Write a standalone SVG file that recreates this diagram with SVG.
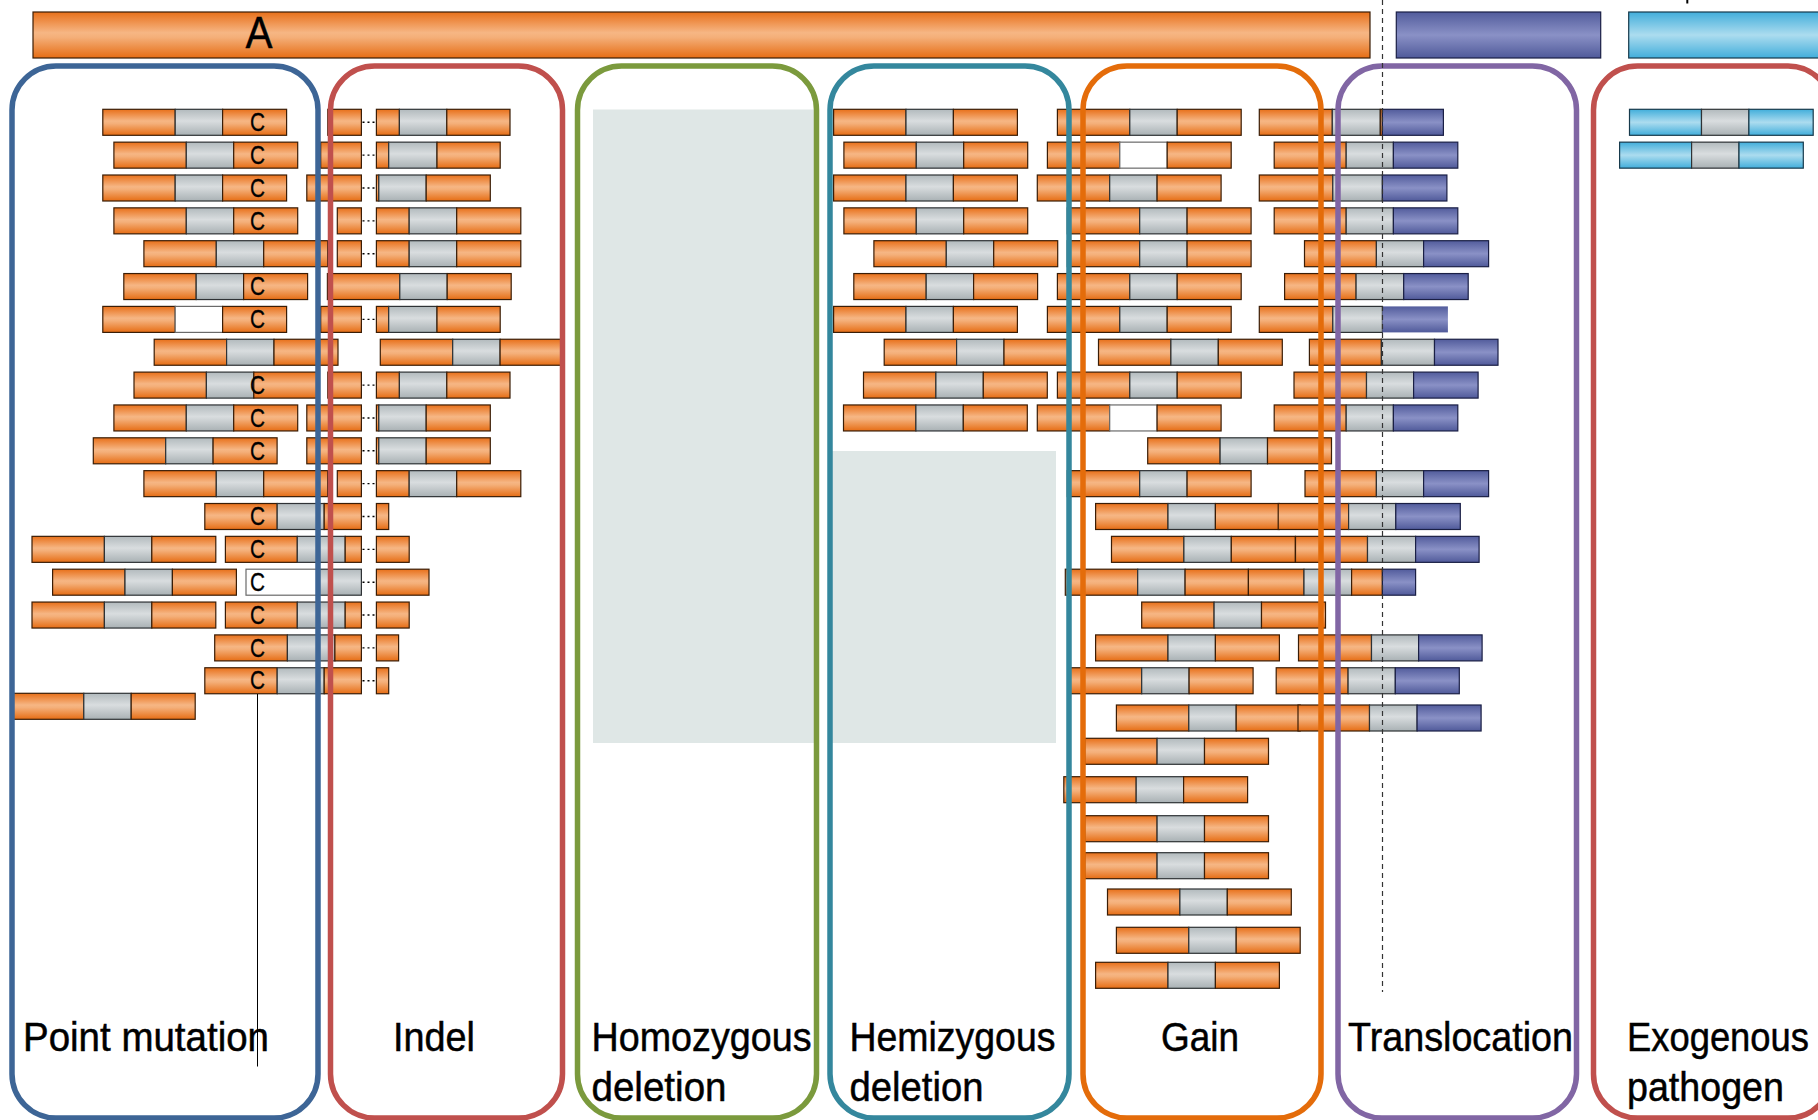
<svg xmlns="http://www.w3.org/2000/svg" width="1818" height="1120" viewBox="0 0 1818 1120">
<style>
.o{fill:url(#go);stroke:#3a1d06;stroke-width:1.2}
.g{fill:url(#gg);stroke:#2e3235;stroke-width:1.2}
.p{fill:url(#gp);stroke:#1a1f45;stroke-width:1.2}
.pn{fill:url(#gp);stroke:none}
.c{fill:url(#gc);stroke:#173a4c;stroke-width:1.2}
.w{fill:#fff;stroke:#6a6a6a;stroke-width:1.2}
.bg{fill:#dfe7e6}
.fr{fill:none;stroke-width:5.5}
.lbl{font-family:"Liberation Sans Narrow","Liberation Sans",Arial,sans-serif;font-size:41px;fill:#000;stroke:#000;stroke-width:0.5}
.cm{font-family:"Liberation Sans Narrow","Liberation Sans",Arial,sans-serif;font-size:26px;fill:#000;stroke:#000;stroke-width:0.3;text-anchor:middle}
.dots{stroke:#000;stroke-width:1.4;stroke-dasharray:2 3;fill:none}
</style>
<defs>
<linearGradient id="go" x1="0" y1="0" x2="0" y2="1"><stop offset="0" stop-color="#e8701a"/><stop offset="0.45" stop-color="#f6b684"/><stop offset="0.55" stop-color="#f4af79"/><stop offset="1" stop-color="#e66d14"/></linearGradient>
<linearGradient id="gg" x1="0" y1="0" x2="0" y2="1"><stop offset="0" stop-color="#b2babd"/><stop offset="0.45" stop-color="#d9dddf"/><stop offset="1" stop-color="#a9b1b4"/></linearGradient>
<linearGradient id="gp" x1="0" y1="0" x2="0" y2="1"><stop offset="0" stop-color="#525c9c"/><stop offset="0.5" stop-color="#8a91c6"/><stop offset="1" stop-color="#505a9a"/></linearGradient>
<linearGradient id="gc" x1="0" y1="0" x2="0" y2="1"><stop offset="0" stop-color="#42aedb"/><stop offset="0.5" stop-color="#acdcef"/><stop offset="1" stop-color="#42aedb"/></linearGradient>
<g id="u"><rect class="o" x="0" y="0" width="72.4" height="26"/><rect class="g" x="72.4" y="0" width="47.4" height="26"/><rect class="o" x="119.8" y="0" width="64" height="26"/></g>
<g id="uw"><rect class="o" x="0" y="0" width="72.4" height="26"/><rect class="w" x="72.4" y="0" width="47.4" height="26"/><rect class="o" x="119.8" y="0" width="64" height="26"/></g>
<g id="ue"><rect class="c" x="0" y="0" width="72" height="26"/><rect class="g" x="72" y="0" width="47.4" height="26"/><rect class="c" x="119.4" y="0" width="64.3" height="26"/></g>
</defs>

<rect x="0" y="0" width="1818" height="1120" fill="#fff"/>

<g id="top-bars">
<rect class="o" x="33" y="12" width="1337" height="46"/>
<text x="259" y="47.5" style="font-family:'Liberation Sans Narrow','Liberation Sans',Arial,sans-serif;font-size:44px;text-anchor:middle;stroke:#000;stroke-width:0.4" textLength="27" lengthAdjust="spacingAndGlyphs">A</text>
<rect class="p" x="1396.3" y="12" width="204.4" height="46"/>
<rect class="c" x="1628.7" y="12" width="200" height="46"/>
<line x1="1687.3" y1="0" x2="1687.3" y2="3.5" stroke="#000" stroke-width="2"/>
</g>

<g id="backgrounds">
<rect class="bg" x="593" y="109.5" width="223" height="633.5"/>
<rect class="bg" x="830" y="451" width="226" height="292"/>
</g>

<g id="point-mutation-bars">
<use href="#u" x="102.8" y="109.3"/>
<use href="#u" x="113.9" y="142.15"/>
<use href="#u" x="102.8" y="175"/>
<use href="#u" x="113.9" y="207.85"/>
<use href="#u" x="143.9" y="240.7"/>
<use href="#u" x="123.8" y="273.55"/>
<use href="#uw" x="102.8" y="306.4"/>
<use href="#u" x="154.2" y="339.25"/>
<use href="#u" x="134" y="372.1"/>
<use href="#u" x="113.9" y="404.95"/>
<use href="#u" x="93.3" y="437.8"/>
<use href="#u" x="143.9" y="470.65"/>
<g transform="translate(0,503.5)"><rect class="o" x="204.8" y="0" width="72.4" height="26"/><rect class="g" x="277.2" y="0" width="47" height="26"/><rect class="o" x="324.2" y="0" width="37.2" height="26"/></g>
<use href="#u" x="32" y="536.35"/>
<g transform="translate(0,536.35)"><rect class="o" x="225.4" y="0" width="71.9" height="26"/><rect class="g" x="297.3" y="0" width="47.9" height="26"/><rect class="o" x="345.2" y="0" width="16.2" height="26"/></g>
<use href="#u" x="52.6" y="569.2"/>
<g transform="translate(0,569.2)"><rect class="w" x="246" y="0" width="72.4" height="26"/><rect class="g" x="318.4" y="0" width="43" height="26"/></g>
<use href="#u" x="32" y="602.05"/>
<g transform="translate(0,602.05)"><rect class="o" x="225.4" y="0" width="71.9" height="26"/><rect class="g" x="297.3" y="0" width="47.9" height="26"/><rect class="o" x="345.2" y="0" width="16.2" height="26"/></g>
<g transform="translate(0,634.9)"><rect class="o" x="214.7" y="0" width="72.7" height="26"/><rect class="g" x="287.4" y="0" width="47.5" height="26"/><rect class="o" x="334.9" y="0" width="26.5" height="26"/></g>
<g transform="translate(0,667.75)"><rect class="o" x="204.8" y="0" width="72.4" height="26"/><rect class="g" x="277.2" y="0" width="47" height="26"/><rect class="o" x="324.2" y="0" width="37.2" height="26"/></g>
<use href="#u" x="11.4" y="693.3"/>
<g class="cm">
<text x="257.5" y="131" textLength="15" lengthAdjust="spacingAndGlyphs">C</text>
<text x="257.5" y="163.85" textLength="15" lengthAdjust="spacingAndGlyphs">C</text>
<text x="257.5" y="196.7" textLength="15" lengthAdjust="spacingAndGlyphs">C</text>
<text x="257.5" y="229.55" textLength="15" lengthAdjust="spacingAndGlyphs">C</text>
<text x="257.5" y="295.25" textLength="15" lengthAdjust="spacingAndGlyphs">C</text>
<text x="257.5" y="328.1" textLength="15" lengthAdjust="spacingAndGlyphs">C</text>
<text x="257.5" y="393.8" textLength="15" lengthAdjust="spacingAndGlyphs">C</text>
<text x="257.5" y="426.65" textLength="15" lengthAdjust="spacingAndGlyphs">C</text>
<text x="257.5" y="459.5" textLength="15" lengthAdjust="spacingAndGlyphs">C</text>
<text x="257.5" y="525.2" textLength="15" lengthAdjust="spacingAndGlyphs">C</text>
<text x="257.5" y="558.05" textLength="15" lengthAdjust="spacingAndGlyphs">C</text>
<text x="257.5" y="590.9" textLength="15" lengthAdjust="spacingAndGlyphs">C</text>
<text x="257.5" y="623.75" textLength="15" lengthAdjust="spacingAndGlyphs">C</text>
<text x="257.5" y="656.6" textLength="15" lengthAdjust="spacingAndGlyphs">C</text>
<text x="257.5" y="689.45" textLength="15" lengthAdjust="spacingAndGlyphs">C</text>
</g>
</g>

<g id="indel-bars">
<g transform="translate(0,109.3)"><rect class="o" x="327.8" y="0" width="33.6" height="26"/><rect class="o" x="376.4" y="0" width="23" height="26"/><rect class="g" x="399.4" y="0" width="47.4" height="26"/><rect class="o" x="446.8" y="0" width="63.2" height="26"/></g>
<g transform="translate(0,142.15)"><rect class="o" x="320.7" y="0" width="40.7" height="26"/><rect class="o" x="376.4" y="0" width="12.3" height="26"/><rect class="g" x="388.7" y="0" width="48.3" height="26"/><rect class="o" x="437" y="0" width="63.2" height="26"/></g>
<g transform="translate(0,175)"><rect class="o" x="306.8" y="0" width="54.6" height="26"/><rect class="o" x="376.4" y="0" width="2.4" height="26"/><rect class="g" x="378.8" y="0" width="47.4" height="26"/><rect class="o" x="426.2" y="0" width="64.1" height="26"/></g>
<g transform="translate(0,207.85)"><rect class="o" x="337.3" y="0" width="24.1" height="26"/><rect class="o" x="376.4" y="0" width="32.8" height="26"/><rect class="g" x="409.2" y="0" width="47.5" height="26"/><rect class="o" x="456.7" y="0" width="64.1" height="26"/></g>
<g transform="translate(0,240.7)"><rect class="o" x="337.3" y="0" width="24.1" height="26"/><rect class="o" x="376.4" y="0" width="32.8" height="26"/><rect class="g" x="409.2" y="0" width="47.5" height="26"/><rect class="o" x="456.7" y="0" width="64.1" height="26"/></g>
<use href="#u" x="327.4" y="273.55"/>
<g transform="translate(0,306.4)"><rect class="o" x="320.7" y="0" width="40.7" height="26"/><rect class="o" x="376.4" y="0" width="12.3" height="26"/><rect class="g" x="388.7" y="0" width="48.3" height="26"/><rect class="o" x="437" y="0" width="63.2" height="26"/></g>
<use href="#u" x="380.3" y="339.25"/>
<g transform="translate(0,372.1)"><rect class="o" x="327.8" y="0" width="33.6" height="26"/><rect class="o" x="376.4" y="0" width="23" height="26"/><rect class="g" x="399.4" y="0" width="47.4" height="26"/><rect class="o" x="446.8" y="0" width="63.2" height="26"/></g>
<g transform="translate(0,404.95)"><rect class="o" x="306.8" y="0" width="54.6" height="26"/><rect class="o" x="376.4" y="0" width="2.4" height="26"/><rect class="g" x="378.8" y="0" width="47.4" height="26"/><rect class="o" x="426.2" y="0" width="64.1" height="26"/></g>
<g transform="translate(0,437.8)"><rect class="o" x="306.8" y="0" width="54.6" height="26"/><rect class="o" x="376.4" y="0" width="2.4" height="26"/><rect class="g" x="378.8" y="0" width="47.4" height="26"/><rect class="o" x="426.2" y="0" width="64.1" height="26"/></g>
<g transform="translate(0,470.65)"><rect class="o" x="337.3" y="0" width="24.1" height="26"/><rect class="o" x="376.4" y="0" width="32.8" height="26"/><rect class="g" x="409.2" y="0" width="47.5" height="26"/><rect class="o" x="456.7" y="0" width="64.1" height="26"/></g>
<rect class="o" x="376.4" y="503.5" width="12.3" height="26"/>
<rect class="o" x="376.4" y="536.35" width="32.8" height="26"/>
<rect class="o" x="376.4" y="569.2" width="52.6" height="26"/>
<rect class="o" x="376.4" y="602.05" width="32.8" height="26"/>
<rect class="o" x="376.4" y="634.9" width="22.2" height="26"/>
<rect class="o" x="376.4" y="667.75" width="12.3" height="26"/>
</g>

<g id="hemizygous-bars">
<use href="#u" x="833.6" y="109.3"/>
<use href="#u" x="843.9" y="142.15"/>
<use href="#u" x="833.6" y="175"/>
<use href="#u" x="843.9" y="207.85"/>
<use href="#u" x="873.9" y="240.7"/>
<use href="#u" x="853.8" y="273.55"/>
<use href="#u" x="833.6" y="306.4"/>
<use href="#u" x="884.2" y="339.25"/>
<use href="#u" x="863.5" y="372.1"/>
<use href="#u" x="843.5" y="404.95"/>
</g>

<g id="gain-bars">
<use href="#u" x="1057.4" y="109.3"/>
<use href="#uw" x="1047.4" y="142.15"/>
<use href="#u" x="1037.3" y="175"/>
<use href="#u" x="1067.3" y="207.85"/>
<use href="#u" x="1067.3" y="240.7"/>
<use href="#u" x="1057.4" y="273.55"/>
<use href="#u" x="1047.4" y="306.4"/>
<use href="#u" x="1098.5" y="339.25"/>
<use href="#u" x="1057.4" y="372.1"/>
<use href="#uw" x="1037.3" y="404.95"/>
<use href="#u" x="1147.7" y="437.8"/>
<use href="#u" x="1067.3" y="470.65"/>
<use href="#u" x="1095.6" y="503.5"/>
<use href="#u" x="1111.5" y="536.35"/>
<g transform="translate(0,569.2)"><rect class="o" x="1065.3" y="0" width="72.4" height="26"/><rect class="g" x="1137.7" y="0" width="47.4" height="26"/><rect class="o" x="1185.1" y="0" width="63.3" height="26"/><rect class="o" x="1248.4" y="0" width="55.6" height="26"/><rect class="g" x="1304" y="0" width="47.6" height="26"/><rect class="o" x="1351.6" y="0" width="30.8" height="26"/><rect class="p" x="1382.4" y="0" width="33.2" height="26"/></g>
<use href="#u" x="1141.7" y="602.05"/>
<use href="#u" x="1095.6" y="634.9"/>
<use href="#u" x="1069.3" y="667.75"/>
<use href="#u" x="1116.4" y="705"/>
<use href="#u" x="1084.7" y="738.3"/>
<use href="#u" x="1063.8" y="776.7"/>
<use href="#u" x="1084.7" y="815.7"/>
<use href="#u" x="1084.7" y="852.7"/>
<use href="#u" x="1107.5" y="889"/>
<use href="#u" x="1116.4" y="927.3"/>
<use href="#u" x="1095.6" y="962.3"/>
</g>

<g id="translocation-bars">
<g transform="translate(0,109.3)"><rect class="o" x="1259.3" y="0" width="73" height="26"/><rect class="g" x="1332.3" y="0" width="48" height="26"/><rect class="o" x="1380.3" y="0" width="2.1" height="26"/><rect class="p" x="1382.4" y="0" width="61" height="26"/></g>
<g transform="translate(0,142.15)"><rect class="o" x="1274.2" y="0" width="72" height="26"/><rect class="g" x="1346.2" y="0" width="47.2" height="26"/><rect class="p" x="1393.4" y="0" width="64.4" height="26"/></g>
<g transform="translate(0,175)"><rect class="o" x="1259.3" y="0" width="73.5" height="26"/><rect class="g" x="1332.8" y="0" width="49.6" height="26"/><rect class="p" x="1382.4" y="0" width="64.5" height="26"/></g>
<g transform="translate(0,207.85)"><rect class="o" x="1274.2" y="0" width="72" height="26"/><rect class="g" x="1346.2" y="0" width="47.2" height="26"/><rect class="p" x="1393.4" y="0" width="64.4" height="26"/></g>
<g transform="translate(0,240.7)"><rect class="o" x="1304.5" y="0" width="71.9" height="26"/><rect class="g" x="1376.4" y="0" width="47.2" height="26"/><rect class="p" x="1423.6" y="0" width="65" height="26"/></g>
<g transform="translate(0,273.55)"><rect class="o" x="1284.6" y="0" width="71.5" height="26"/><rect class="g" x="1356.1" y="0" width="47.6" height="26"/><rect class="p" x="1403.7" y="0" width="64.5" height="26"/></g>
<g transform="translate(0,306.4)"><rect class="o" x="1259.3" y="0" width="73.5" height="26"/><rect class="g" x="1332.8" y="0" width="49.6" height="26"/><rect class="pn" x="1382.4" y="0" width="65.5" height="26"/></g>
<g transform="translate(0,339.25)"><rect class="o" x="1309.4" y="0" width="72" height="26"/><rect class="g" x="1381.4" y="0" width="53.1" height="26"/><rect class="p" x="1434.5" y="0" width="63.5" height="26"/></g>
<g transform="translate(0,372.1)"><rect class="o" x="1294" y="0" width="72.5" height="26"/><rect class="g" x="1366.5" y="0" width="47.1" height="26"/><rect class="p" x="1413.6" y="0" width="64.5" height="26"/></g>
<g transform="translate(0,404.95)"><rect class="o" x="1274.2" y="0" width="72" height="26"/><rect class="g" x="1346.2" y="0" width="47.2" height="26"/><rect class="p" x="1393.4" y="0" width="64.4" height="26"/></g>
<g transform="translate(0,470.65)"><rect class="o" x="1305" y="0" width="71.4" height="26"/><rect class="g" x="1376.4" y="0" width="47.2" height="26"/><rect class="p" x="1423.6" y="0" width="65" height="26"/></g>
<g transform="translate(0,503.5)"><rect class="o" x="1278.2" y="0" width="70.4" height="26"/><rect class="g" x="1348.6" y="0" width="47.2" height="26"/><rect class="p" x="1395.8" y="0" width="64.5" height="26"/></g>
<g transform="translate(0,536.35)"><rect class="o" x="1295.5" y="0" width="72" height="26"/><rect class="g" x="1367.5" y="0" width="48.1" height="26"/><rect class="p" x="1415.6" y="0" width="63.5" height="26"/></g>
<g transform="translate(0,634.9)"><rect class="o" x="1298.5" y="0" width="73" height="26"/><rect class="g" x="1371.5" y="0" width="47.1" height="26"/><rect class="p" x="1418.6" y="0" width="63.5" height="26"/></g>
<g transform="translate(0,667.75)"><rect class="o" x="1276.2" y="0" width="71.9" height="26"/><rect class="g" x="1348.1" y="0" width="47.2" height="26"/><rect class="p" x="1395.3" y="0" width="64" height="26"/></g>
<g transform="translate(0,705)"><rect class="o" x="1298" y="0" width="71.5" height="26"/><rect class="g" x="1369.5" y="0" width="47.6" height="26"/><rect class="p" x="1417.1" y="0" width="64" height="26"/></g>
</g>

<g id="exogenous-bars">
<use href="#ue" x="1629.5" y="109.3"/>
<use href="#ue" x="1619.6" y="142.15"/>
</g>

<g id="connectors">
<g class="dots">
<line x1="362.5" y1="122.3" x2="376" y2="122.3"/>
<line x1="362.5" y1="155.15" x2="376" y2="155.15"/>
<line x1="362.5" y1="188" x2="376" y2="188"/>
<line x1="362.5" y1="220.85" x2="376" y2="220.85"/>
<line x1="362.5" y1="253.7" x2="376" y2="253.7"/>
<line x1="362.5" y1="319.4" x2="376" y2="319.4"/>
<line x1="362.5" y1="385.1" x2="376" y2="385.1"/>
<line x1="362.5" y1="417.95" x2="376" y2="417.95"/>
<line x1="362.5" y1="450.8" x2="376" y2="450.8"/>
<line x1="362.5" y1="483.65" x2="376" y2="483.65"/>
<line x1="362.5" y1="516.5" x2="376" y2="516.5"/>
<line x1="362.5" y1="549.35" x2="376" y2="549.35"/>
<line x1="362.5" y1="582.2" x2="376" y2="582.2"/>
<line x1="362.5" y1="615.05" x2="376" y2="615.05"/>
<line x1="362.5" y1="647.9" x2="376" y2="647.9"/>
<line x1="362.5" y1="680.75" x2="376" y2="680.75"/>
</g>
<line x1="257.5" y1="694" x2="257.5" y2="1066.5" stroke="#000" stroke-width="1"/>
</g>

<g id="point-mutation">
<rect class="fr" x="12" y="66" width="306" height="1052" rx="44" stroke="#3d6596"/>
<text class="lbl" x="23" y="1050.5" textLength="246" lengthAdjust="spacingAndGlyphs">Point mutation</text>
</g>
<g id="indel">
<rect class="fr" x="330.5" y="66" width="232" height="1052" rx="44" stroke="#c0504d"/>
<text class="lbl" x="393" y="1050.5" textLength="82" lengthAdjust="spacingAndGlyphs">Indel</text>
</g>
<g id="homozygous-deletion">
<rect class="fr" x="577.5" y="66" width="239" height="1052" rx="44" stroke="#7b9a3d"/>
<text class="lbl" x="591.5" y="1050.5" textLength="220" lengthAdjust="spacingAndGlyphs">Homozygous</text>
<text class="lbl" x="591.5" y="1101" textLength="135" lengthAdjust="spacingAndGlyphs">deletion</text>
</g>
<g id="hemizygous-deletion">
<rect class="fr" x="830" y="66" width="239" height="1052" rx="44" stroke="#34879d"/>
<text class="lbl" x="849.5" y="1050.5" textLength="206" lengthAdjust="spacingAndGlyphs">Hemizygous</text>
<text class="lbl" x="849.5" y="1101" textLength="134" lengthAdjust="spacingAndGlyphs">deletion</text>
</g>
<g id="gain">
<rect class="fr" x="1083" y="66" width="238" height="1052" rx="44" stroke="#e46c0a"/>
<text class="lbl" x="1161" y="1050.5" textLength="78" lengthAdjust="spacingAndGlyphs">Gain</text>
</g>
<g id="translocation">
<rect class="fr" x="1338" y="66" width="238.5" height="1052" rx="44" stroke="#8166a4"/>
<text class="lbl" x="1348" y="1050.5" textLength="225" lengthAdjust="spacingAndGlyphs">Translocation</text>
</g>
<g id="exogenous-pathogen">
<rect class="fr" x="1593.5" y="66" width="238.5" height="1052" rx="44" stroke="#c0504d"/>
<text class="lbl" x="1627" y="1050.5" textLength="182" lengthAdjust="spacingAndGlyphs">Exogenous</text>
<text class="lbl" x="1627" y="1101" textLength="157" lengthAdjust="spacingAndGlyphs">pathogen</text>
</g>

<line id="breakpoint" x1="1382.5" y1="0" x2="1382.5" y2="992" stroke="#333" stroke-width="1.2" stroke-dasharray="5 4"/>
</svg>
